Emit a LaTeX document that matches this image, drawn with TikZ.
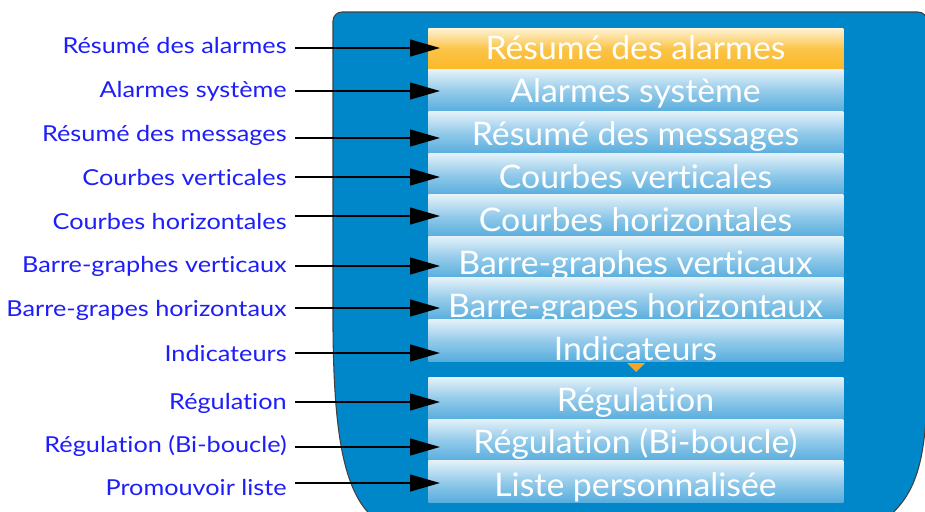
\documentclass[tikz,border=0pt]{standalone}
\usepackage{fontspec}
\setmainfont{Lato}
\newfontfamily\labelfont[FakeStretch=1.15,Ligatures=NoCommon]{Lato}
\newfontfamily\btnfont[FakeStretch=1.04,Ligatures=NoCommon]{Lato}
\usetikzlibrary{arrows.meta}
\definecolor{panelblue}{RGB}{0,135,202}
\definecolor{labelblue}{RGB}{30,30,250}
\definecolor{btntop}{RGB}{228,241,249}
\definecolor{btnmid}{RGB}{148,203,234}
\definecolor{btnbot}{RGB}{88,173,221}
\definecolor{alarmtop}{RGB}{254,242,210}
\definecolor{alarmmid}{RGB}{251,195,70}
\definecolor{alarmbot}{RGB}{250,184,38}
\definecolor{marker}{RGB}{246,166,36}
\tikzset{
  btn/.style={rectangle, inner sep=0, minimum width=8.3cm, minimum height=0.834cm, anchor=north west},
  btntext/.style={anchor=base, text=white, font=\btnfont\fontsize{18.5}{22}\selectfont, inner sep=0},
  lbl/.style={anchor=base east, text=labelblue, font=\labelfont\fontsize{12.5}{15}\selectfont, inner xsep=4.55pt, inner ysep=0},
  arr/.style={-{Triangle[length=17pt,width=9.5pt]}, line width=1.2pt}
}
\begin{document}
\begin{tikzpicture}[x=0.02cm,y=-0.02cm]
\fill[white] (0,0) rectangle (925,511);
\useasboundingbox (0,0) rectangle (925,511);
% panel
\begin{scope}
\clip (0,0) rectangle (925,511);
\filldraw[fill=panelblue,draw=black!75,line width=0.6pt] (333,330) {[rounded corners=0.18cm] -- (333,12) -- (927,12)} -- (927,380) .. controls (927,470) and (913,500) .. (878,525) -- (376,520) .. controls (345,495) and (334,440) .. (333,330) -- cycle;
\end{scope}
% rows
\foreach \i/\top/\tb/\lb/\d/\c/\txt/\lab in {
  1/28/59/53/5/alarm/Résumé des alarmes/Résumé des alarmes,
  2/69.6/102/97/6/btn/Alarmes système/Alarmes système,
  3/111.2/145/141/3/btn/Résumé des messages/Résumé des messages,
  4/152.8/188/185/8/btn/Courbes verticales/Courbes verticales,
  5/194.4/231/229/13/btn/Courbes horizontales/Courbes horizontales,
  6/236/274/272/6/btn/Barre-graphes verticaux/Barre-graphes verticaux,
  7/277.6/317/316/8/btn/Barre-grapes horizontaux/Barre-grapes horizontaux,
  8/319.2/360/361/8/btn/Indicateurs/Indicateurs,
  9/377/411/409/7/btn/Régulation/Régulation,
  10/418.7/453/452/5/btn/Régulation (Bi-boucle)/Régulation (Bi-boucle),
  11/460.3/496/495/12/btn/Liste personnalisée/Promouvoir liste}
{
  \node[btn,top color=\c top,bottom color=\c bot,middle color=\c mid] (b\i) at (428,\top) {};
  \node[btntext] (t\i) at (635.5,\tb) {\txt};
  \node[lbl] (l\i) at (295,\lb) {\lab};
  \coordinate (s\i) at ([yshift=\d*0.02cm]l\i.base east);
  \draw[arr] (s\i) -- ([xshift=0.24cm]s\i -| b\i.west);
}
\fill[marker] (627,363) -- (645,363) -- (636,372) -- cycle;
\end{tikzpicture}
\end{document}
